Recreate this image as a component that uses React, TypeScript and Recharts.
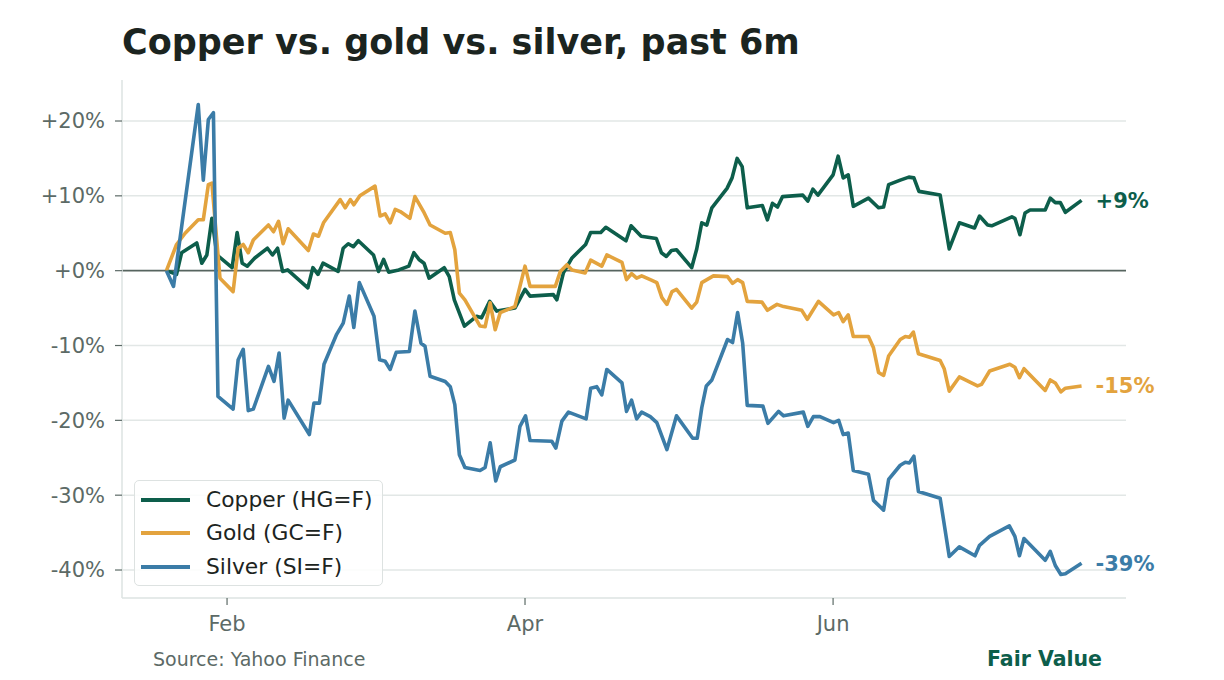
import { LineChart, Line, XAxis, YAxis, ReferenceLine } from "recharts";

// day of year (Jan 1 = 1) and % change since the first close
const copperDays = [
  20, 22, 23, 26, 27, 28, 29, 30, 33, 34, 35, 36, 37.5, 40, 41, 42, 43, 44, 48,
  49, 50, 51, 54, 55, 56, 57, 58, 61, 62, 63, 64, 66, 68, 69, 70, 71, 72, 75,
  76, 77, 79, 81.4, 82.4, 84, 85.4, 89, 91, 92, 96.6, 97.3, 98.6, 100.3, 103,
  104, 106, 107, 111, 112, 114, 117, 118, 119, 120, 121, 124, 125, 126, 127,
  128, 131, 132, 133, 134, 135, 138, 139, 140, 141, 142, 146, 147, 148, 149,
  152, 153, 154, 155, 156, 159, 161, 162, 163, 165.3, 167, 168, 169, 173.2,
  175, 177, 180, 181, 182.6, 183.4, 187.4, 188, 189, 190, 191, 194, 195, 196,
  197, 198, 201.2,
];
const copperPct = [
  0, -0.5, 2.4, 3.7, 1.0, 2.1, 7.0, 2.1, 0.4, 5.1, 1.0, 0.6, 1.7, 3.0, 2.1,
  3.0, -0.1, 0.1, -2.3, 0.4, -0.5, 1.0, -0.1, 3.0, 3.6, 3.2, 4.0, 2.1, -0.1,
  1.5, -0.2, 0.1, 0.6, 2.4, 1.5, 1.0, -1.0, 0.4, -0.8, -3.9, -7.4, -6.1, -6.3,
  -4.1, -5.4, -5.0, -2.5, -3.4, -3.2, -3.9, -0.3, 1.7, 3.5, 5.1, 5.1, 5.8, 4.0,
  6.0, 4.6, 4.3, 2.4, 1.9, 2.7, 2.8, 0.4, 2.9, 6.4, 6.1, 8.4, 11.0, 12.4, 15.0,
  13.9, 8.4, 8.7, 6.8, 9.0, 8.5, 9.9, 10.1, 9.3, 10.9, 10.1, 12.8, 15.3, 12.4,
  12.8, 8.6, 9.7, 8.4, 8.5, 11.5, 12.1, 12.5, 12.4, 10.6, 10.1, 2.9, 6.4, 5.7,
  7.3, 6.1, 6.0, 7.2, 7.0, 4.8, 7.7, 8.1, 8.1, 9.7, 9.1, 9.1, 7.8, 9.4,
];

const goldDays = [
  20, 22, 23.7, 26.3, 27.3, 28.3, 29, 30.6, 33.2, 34.2, 35.2, 36.2, 37.2, 40.2,
  41.2, 42.2, 43.1, 44.1, 48.1, 49.1, 50.1, 51.1, 54.4, 55.4, 56.4, 57.1, 58.3,
  61.3, 62.3, 63.3, 64.3, 65.3, 66.3, 68.2, 69.2, 70.9, 72.2, 75.2, 76.2, 77.1,
  78, 79.1, 82.1, 83.1, 84.1, 85.1, 86.1, 89, 91, 92, 97, 98, 99.3, 100.3,
  102.9, 104, 106.2, 107.2, 110.2, 111.1, 112.1, 113.1, 114.1, 115.8, 117.1,
  118.1, 119.1, 120.1, 121, 124, 125, 126, 128.3, 131.1, 132.1, 133.1, 134.1,
  135, 137.9, 139, 140.9, 142.2, 145.8, 146.9, 149.1, 152.1, 153.1, 154, 155,
  156, 159, 160, 161, 162, 163, 165.3, 166.3, 167.1, 167.9, 168.9, 173.2, 174,
  175, 177, 180.6, 181.4, 183, 187, 188, 188.9, 189.8, 194, 195, 196, 197.1,
  198, 201.2,
];
const goldPct = [
  0, 3.5, 5.0, 6.8, 6.8, 11.5, 11.7, -1.0, -2.8, 3.0, 3.5, 2.4, 4.1, 6.1, 5.2,
  6.6, 3.6, 5.6, 2.7, 4.9, 4.6, 6.4, 9.5, 8.4, 9.5, 8.8, 10.0, 11.3, 7.3, 7.6,
  6.4, 8.2, 7.9, 7.0, 9.9, 7.9, 6.1, 5.0, 5.1, 2.8, -3.0, -3.9, -7.4, -7.5,
  -4.3, -7.9, -5.6, -4.8, 0.6, -2.1, -2.1, -0.1, 0.8, 0.1, -0.3, 1.4, 0.6, 2.1,
  1.1, -1.2, -0.4, -1.0, -0.7, -1.2, -1.6, -3.6, -4.5, -2.8, -2.5, -5.0, -4.2,
  -1.6, -0.7, -0.8, -1.7, -1.2, -1.6, -4.1, -4.2, -5.3, -4.5, -4.8, -5.3, -6.5,
  -4.1, -5.9, -5.6, -6.8, -5.9, -8.8, -8.8, -10.3, -13.6, -14.0, -11.4, -9.2,
  -8.8, -8.9, -8.2, -11.1, -12.0, -13.1, -16.1, -14.2, -15.4, -15.2, -13.4,
  -12.5, -12.9, -14.3, -13.1, -16.0, -14.6, -15.0, -16.2, -15.7, -15.4,
];

const silverDays = [
  20, 21.4, 26.3, 27.3, 28.3, 29.3, 30.2, 33.2, 34.2, 35.2, 36.2, 37.2, 40.2,
  41.3, 42.3, 43.3, 44.1, 48.3, 49.2, 50.3, 51.2, 53.7, 55, 56.2, 57.1, 58.2,
  61.1, 62.2, 63.3, 64.3, 65.5, 68.1, 69.2, 70.4, 71.2, 72.2, 75.2, 76.2, 77.1,
  78, 79.1, 82.1, 83.1, 84.1, 85.2, 86.1, 89, 90, 91.1, 92, 96.3, 97.1, 98.3,
  99.6, 103.1, 104, 105.2, 106.2, 107.2, 110.2, 111.1, 112.1, 113.1, 114.1,
  115.8, 117.1, 119.1, 121, 124.2, 125.1, 126, 126.9, 128, 131.1, 132.1, 133.1,
  134.1, 135, 138.1, 139.1, 141.2, 142.2, 146.1, 147, 148.1, 149.4, 152.1,
  153.1, 154, 155, 156, 159, 160, 162, 163, 165.3, 166.3, 167.1, 168, 168.9,
  173.2, 175, 177, 180.1, 181, 183, 186.9, 188, 188.9, 189.8, 194, 195, 196,
  197.1, 198, 201.2,
];
const silverPct = [
  0, -2.1, 22.2, 12.1, 20.2, 21.1, -16.8, -18.5, -11.9, -10.5, -18.7, -18.5,
  -12.8, -14.8, -11.0, -19.7, -17.3, -21.9, -17.7, -17.7, -12.5, -8.5, -7.0,
  -3.4, -7.6, -1.6, -6.1, -11.9, -12.1, -13.2, -10.9, -10.8, -5.4, -9.7, -10.1,
  -14.1, -14.8, -15.5, -17.9, -24.6, -26.3, -26.7, -26.3, -23.0, -28.1, -26.2,
  -25.3, -20.8, -19.4, -22.7, -22.8, -23.7, -20.1, -18.9, -19.8, -15.7, -15.5,
  -16.6, -13.2, -15.0, -18.8, -17.3, -19.8, -18.9, -19.5, -20.3, -23.9, -19.4,
  -22.4, -22.4, -18.3, -15.4, -14.6, -9.2, -9.6, -5.6, -9.7, -18.0, -18.1,
  -20.4, -18.8, -19.4, -18.9, -20.8, -19.5, -19.5, -20.3, -20.0, -21.9, -21.7,
  -26.7, -27.2, -30.7, -32.0, -27.9, -26.0, -25.6, -25.7, -24.8, -29.5, -30.4,
  -38.2, -36.9, -38.1, -36.7, -35.5, -34.1, -35.5, -38.1, -35.8, -38.7, -37.5,
  -39.4, -40.6, -40.5, -39.1,
];

const monthTicks = [32, 91, 152];
const monthLabels = ["Feb", "Apr", "Jun"];
const pctTicks = [-40, -30, -20, -10, 0, 10, 20];

const FONT = "'DejaVu Sans', sans-serif";
const TICK_COLOR = "#5c6a66";

const toPoints = (days: number[], pct: number[]) =>
  days.map((d, i) => ({ day: d, pct: pct[i] }));

const series = [
  { name: "Copper (HG=F)", color: "#0d5e4b", data: toPoints(copperDays, copperPct) },
  { name: "Gold (GC=F)", color: "#e3a33e", data: toPoints(goldDays, goldPct) },
  { name: "Silver (SI=F)", color: "#3b7ca7", data: toPoints(silverDays, silverPct) },
];

const fmtPct = (v: number) => {
  const r = Math.round(v);
  return r >= 0 ? `+${r}%` : `${r}%`;
};

function endLabel(color: string, lastIndex: number) {
  return (props: any) => {
    if (props.index !== lastIndex) return null;
    return (
      <text
        x={props.x + 14}
        y={props.y}
        dy="0.36em"
        fill={color}
        fontSize={21}
        fontWeight="bold"
        fontFamily={FONT}
      >
        {fmtPct(props.value)}
      </text>
    );
  };
}

export default function App() {
  return (
    <div
      style={{
        position: "absolute",
        left: 0,
        top: 0,
        width: 1224,
        height: 680,
        background: "#fff",
        fontFamily: FONT,
      }}
    >
      <div
        style={{
          position: "absolute",
          left: 122,
          top: 25,
          fontSize: 35,
          lineHeight: 1,
          fontWeight: "bold",
          color: "#1b2420",
          whiteSpace: "nowrap",
        }}
      >
        Copper vs. gold vs. silver, past 6m
      </div>

      <LineChart
        width={1224}
        height={680}
        margin={{ top: 80, right: 98, bottom: 52, left: 62 }}
      >
        <XAxis
          type="number"
          dataKey="day"
          domain={[11.2, 210]}
          ticks={monthTicks}
          allowDataOverflow
          height={30}
          tickFormatter={(d: number) => monthLabels[monthTicks.indexOf(d)]}
          axisLine={{ stroke: "#dde3e2", strokeWidth: 1.5 }}
          tickLine={{ stroke: TICK_COLOR, strokeWidth: 1.2 }}
          tickSize={7}
          tickMargin={11}
          tick={{ fill: TICK_COLOR, fontSize: 21, fontFamily: FONT }}
        />
        <YAxis
          type="number"
          domain={[-43.74, 25.48]}
          ticks={pctTicks}
          allowDataOverflow
          width={60}
          tickFormatter={(v: number) => (v >= 0 ? `+${v}%` : `${v}%`)}
          axisLine={{ stroke: "#dde3e2", strokeWidth: 1.5 }}
          tickLine={{ stroke: TICK_COLOR, strokeWidth: 1.2 }}
          tickSize={7}
          tickMargin={10}
          tick={{ fill: TICK_COLOR, fontSize: 21, fontFamily: FONT }}
        />
        {pctTicks
          .filter((t) => t !== 0)
          .map((t) => (
            <ReferenceLine key={t} y={t} stroke="#e2e7e6" strokeWidth={1.5} />
          ))}
        <ReferenceLine y={0} stroke="#56645f" strokeWidth={1.8} />
        {series.map((s) => (
          <Line
            key={s.name}
            data={s.data}
            dataKey="pct"
            type="linear"
            stroke={s.color}
            strokeWidth={3.6}
            strokeLinejoin="round"
            dot={false}
            activeDot={false}
            isAnimationActive={false}
            label={endLabel(s.color, s.data.length - 1)}
          />
        ))}
      </LineChart>

      <div
        style={{
          position: "absolute",
          left: 134,
          top: 480,
          width: 249,
          height: 106,
          boxSizing: "border-box",
          border: "1.5px solid #dde2e1",
          borderRadius: 5,
          background: "rgba(255,255,255,0.85)",
        }}
      >
        {series.map((s, i) => (
          <div
            key={s.name}
            style={{
              position: "absolute",
              left: 6,
              top: 2 + i * 33.5,
              height: 33,
              display: "flex",
              alignItems: "center",
              whiteSpace: "nowrap",
            }}
          >
            <div style={{ width: 49, height: 4, background: s.color }} />
            <span
              style={{
                marginLeft: 16,
                fontSize: 21.8,
                color: "#1c2421",
                lineHeight: 1,
              }}
            >
              {s.name}
            </span>
          </div>
        ))}
      </div>

      <div
        style={{
          position: "absolute",
          left: 153,
          top: 650,
          fontSize: 19,
          lineHeight: 1,
          color: TICK_COLOR,
          whiteSpace: "nowrap",
        }}
      >
        Source: Yahoo Finance
      </div>
      <div
        style={{
          position: "absolute",
          left: 987,
          top: 649,
          fontSize: 20.5,
          lineHeight: 1,
          fontWeight: "bold",
          color: "#0d5e4b",
          whiteSpace: "nowrap",
        }}
      >
        Fair Value
      </div>
    </div>
  );
}
